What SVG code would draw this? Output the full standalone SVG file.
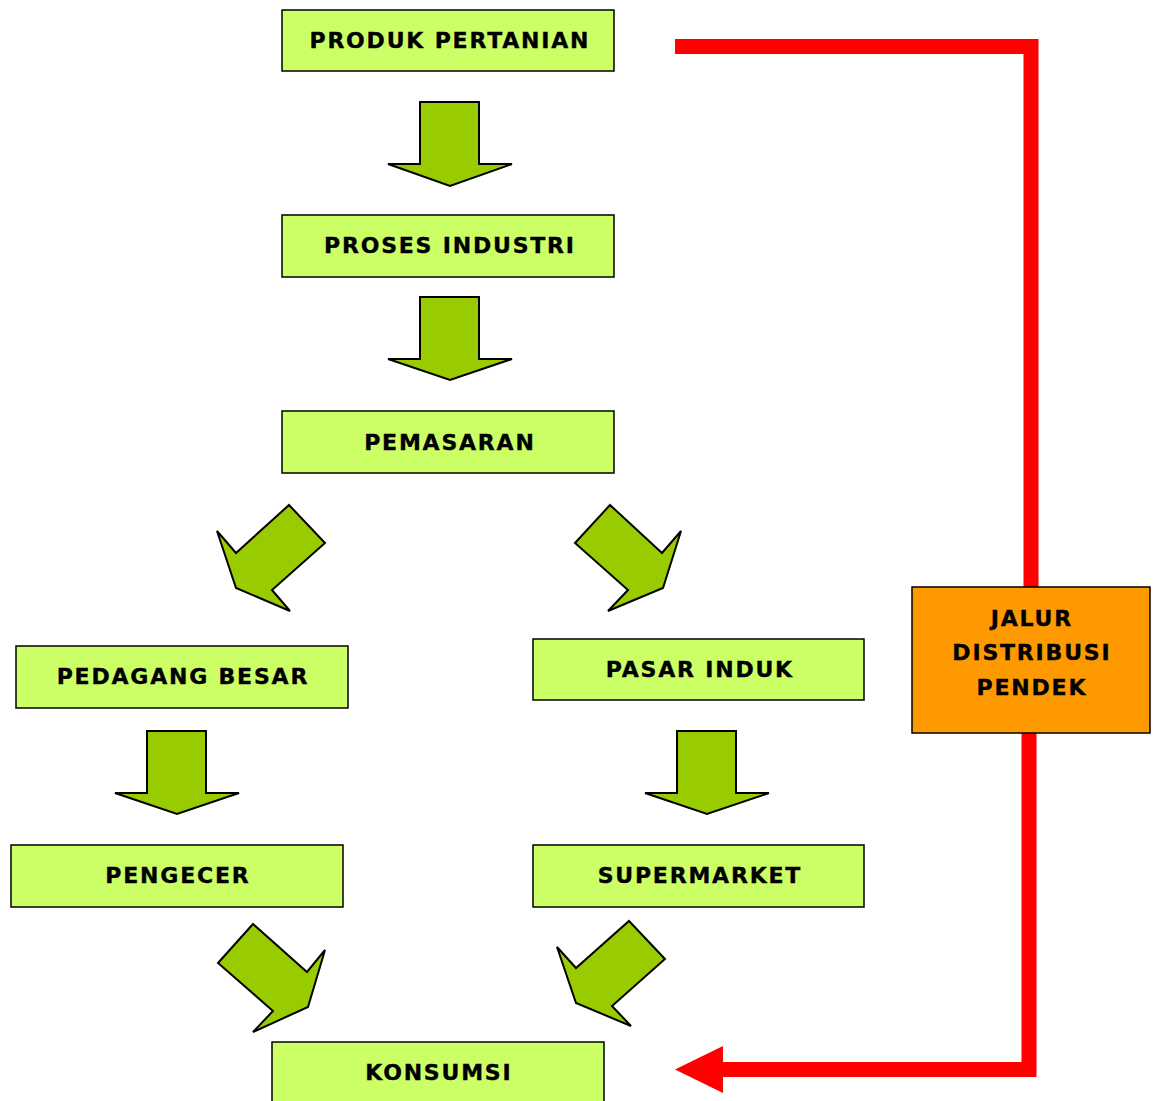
<svg xmlns="http://www.w3.org/2000/svg" width="1155" height="1101" viewBox="0 0 1155 1101">
<style>
.box{fill:#CCFF66;stroke:#000;stroke-width:1.5}
.lbl{font-family:"DejaVu Sans",Verdana,sans-serif;font-weight:bold;font-size:22px;letter-spacing:1.8px;fill:#000;stroke:#000;stroke-width:0.35;text-anchor:middle;dominant-baseline:central}
.arr{fill:#99CC00;stroke:#000;stroke-width:2;stroke-linejoin:miter}
.red{fill:none;stroke:#FF0000;stroke-width:15;stroke-linejoin:miter}
</style>
<rect width="1155" height="1101" fill="#fff"/>
<g id="connectors">
<polygon class="arr" points="420,102 479,102 479,164 512,164 450,186 388,164 420,164"/>
<polygon class="arr" points="420,297 479,297 479,359 512,359 450,380 388,359 420,359"/>
<polygon class="arr" points="289,505 325,543 272,590 290,611 236,588 217,531 236,553"/>
<polygon class="arr" points="610,505 662,553 681,531 663,588 608,611 628,590 575,543"/>
<polygon class="arr" points="147,731 206,731 206,793 239,793 177,814 115,793 147,793"/>
<polygon class="arr" points="677,731 736,731 736,793 769,793 707,814 645,793 677,793"/>
<polygon class="arr" points="253,924 307,972 325,950 308,1007 253,1032 273,1011 218,963"/>
<polygon class="arr" points="629,921 665,959 612,1006 631,1026 576,1003 557,947 576,968"/>
<path class="red" d="M675,46.5 H1031 V590"/>
<path class="red" d="M1029,730 V1069.5 H720"/>
<polygon fill="#FF0000" points="675,1069.5 723,1046 723,1093"/>
</g>
<g id="n-produk"><rect class="box" x="282" y="10" width="332" height="61"/><text class="lbl" x="449.9" y="40.5">PRODUK PERTANIAN</text></g>
<g id="n-proses"><rect class="box" x="282" y="215" width="332" height="62"/><text class="lbl" x="449.9" y="245.5">PROSES INDUSTRI</text></g>
<g id="n-pemasaran"><rect class="box" x="282" y="411" width="332" height="62"/><text class="lbl" x="449.9" y="442.5">PEMASARAN</text></g>
<g id="n-pedagang"><rect class="box" x="16" y="646" width="332" height="62"/><text class="lbl" x="182.9" y="676.5">PEDAGANG BESAR</text></g>
<g id="n-pasar"><rect class="box" x="533" y="639" width="331" height="61"/><text class="lbl" x="699.9" y="669.5">PASAR INDUK</text></g>
<g id="n-pengecer"><rect class="box" x="11" y="845" width="332" height="62"/><text class="lbl" x="177.9" y="875.5">PENGECER</text></g>
<g id="n-supermarket"><rect class="box" x="533" y="845" width="331" height="62"/><text class="lbl" x="699.9" y="875.5">SUPERMARKET</text></g>
<g id="n-konsumsi"><rect class="box" x="272" y="1042" width="332" height="62"/><text class="lbl" x="438.9" y="1072.5">KONSUMSI</text></g>
<g id="n-jalur"><rect x="912" y="587" width="238" height="146" fill="#FF9900" stroke="#000" stroke-width="1.5"/>
<text class="lbl" x="1031.9" y="618.5">JALUR</text><text class="lbl" x="1031.9" y="652.5">DISTRIBUSI</text><text class="lbl" x="1031.9" y="687.5">PENDEK</text></g>
</svg>
